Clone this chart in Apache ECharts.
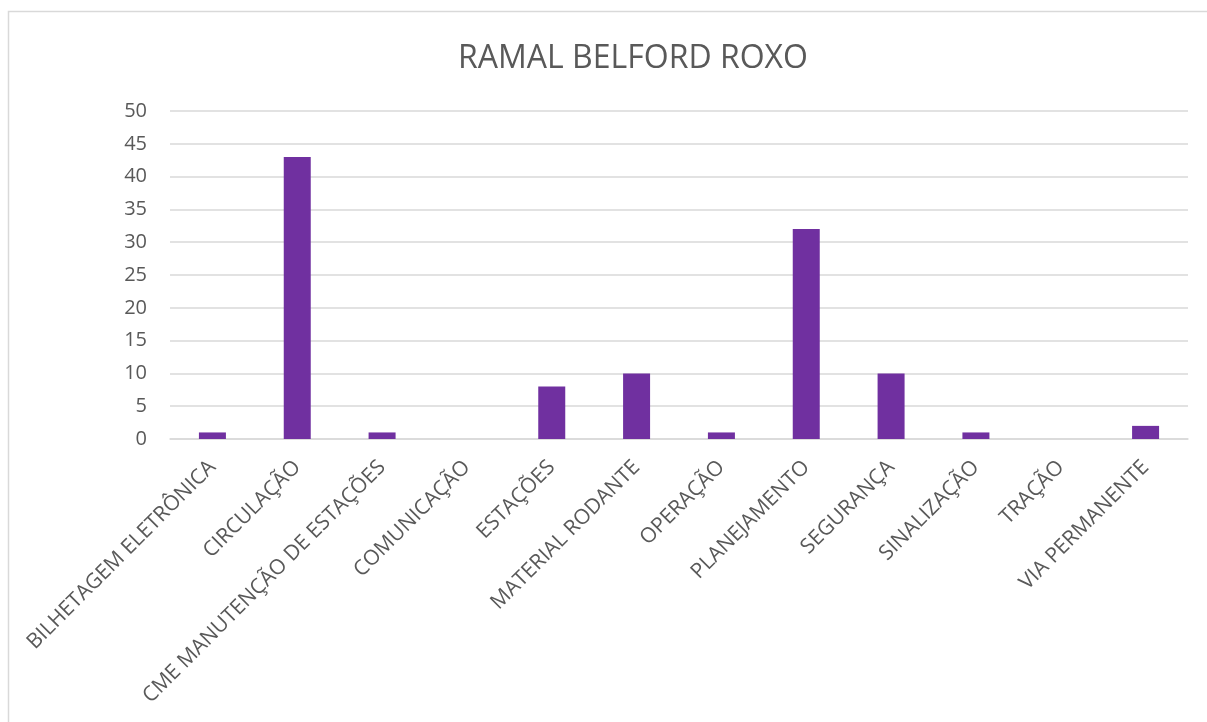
<!DOCTYPE html>
<html>
<head>
<meta charset="utf-8">
<script src="https://cdn.jsdelivr.net/npm/echarts@6/dist/echarts.min.js"></script>
<style>
  html, body { margin: 0; padding: 0; background: #fff; }
  #chart { width: 1207px; height: 722px; }
</style>
</head>
<body>
<div id="chart"></div>
<script>
// dados do gráfico
var titulo = "RAMAL BELFORD ROXO";
var categorias = [
  "BILHETAGEM ELETRÔNICA", "CIRCULAÇÃO", "CME MANUTENÇÃO DE ESTAÇÕES",
  "COMUNICAÇÃO", "ESTAÇÕES", "MATERIAL RODANTE", "OPERAÇÃO",
  "PLANEJAMENTO", "SEGURANÇA", "SINALIZAÇÃO", "TRAÇÃO", "VIA PERMANENTE"
];
var valores = [1, 43, 1, 0, 8, 10, 1, 32, 10, 1, 0, 2];
var eixoY = { min: 0, max: 50, interval: 5 };

var fonte = "'Open Sans', 'Liberation Sans', sans-serif";
var chart = echarts.init(document.getElementById("chart"));
chart.setOption({
  animation: false,
  color: ["#7030A0"],
  title: {
    text: titulo,
    left: 628,
    top: 38,
    textAlign: "center",
    textStyle: { fontFamily: fonte, fontSize: 32, fontWeight: "normal", color: "#595959" }
  },
  graphic: [{
    type: "rect",
    shape: { x: 8.5, y: 11.5, width: 1400, height: 900 },
    style: { fill: null, stroke: "#d9d9d9", lineWidth: 1.5 },
    silent: true
  }],
  grid: { left: 170, right: 19, top: 111, bottom: 283 },
  xAxis: {
    type: "category",
    data: categorias,
    axisLine: { lineStyle: { color: "#d9d9d9", width: 1.5 } },
    axisTick: { show: false },
    axisLabel: {
      interval: 0,
      rotate: 45,
      margin: 25,
      fontFamily: fonte,
      fontSize: 21,
      color: "#595959"
    }
  },
  yAxis: {
    type: "value",
    min: eixoY.min,
    max: eixoY.max,
    interval: eixoY.interval,
    axisLine: { show: false },
    axisTick: { show: false },
    splitLine: { lineStyle: { color: "#d9d9d9", width: 1.5 } },
    axisLabel: { fontFamily: fonte, fontSize: 20, color: "#595959", margin: 23 }
  },
  series: [{
    name: titulo,
    type: "bar",
    barWidth: 27,
    data: valores
  }]
});
</script>
</body>
</html>
